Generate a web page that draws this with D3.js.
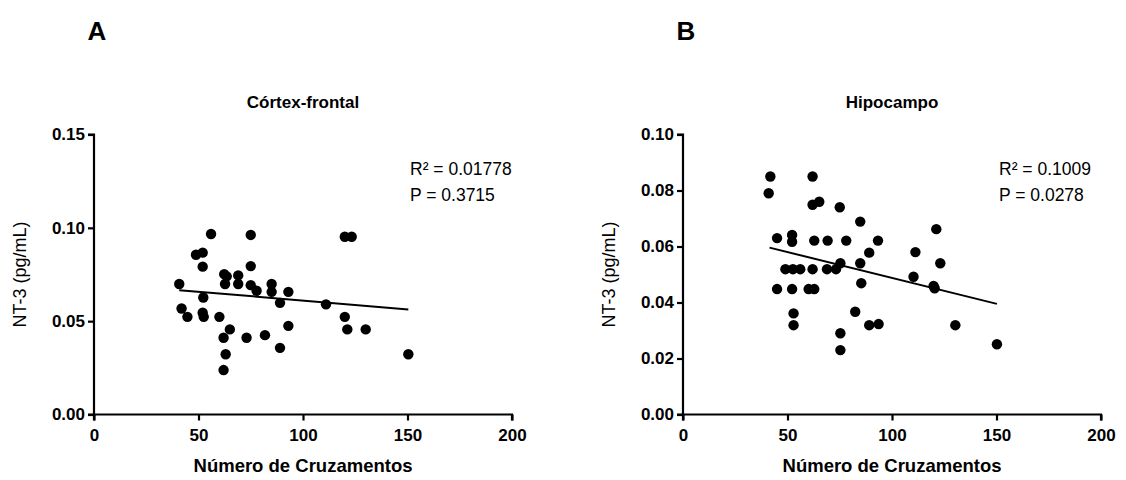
<!DOCTYPE html>
<html>
<head>
<meta charset="utf-8">
<script src="https://cdn.jsdelivr.net/npm/d3@7"></script>
<style>
  body { margin: 0; background: #fff; }
  svg text { font-family: "Liberation Sans", Arial, sans-serif; fill: #000; }
</style>
</head>
<body>
<svg id="chart"></svg>
<script>
var width = 1126;
var height = 480;

// panel A: Córtex-frontal
var cortexX = [40.8, 41.9, 44.7, 48.8, 52, 52, 52.3, 52, 52.5, 56, 60, 62.3, 63.5, 62.7, 62, 63, 62,
  65, 69, 69, 73, 75, 75, 75, 77.8, 81.8, 85, 85, 89, 89, 93, 93, 111, 120, 123.3, 120, 121.2, 130, 150.4];
var cortexY = [0.0699, 0.0568, 0.0523, 0.0856, 0.0867, 0.0792, 0.0627, 0.0545, 0.0523, 0.0967, 0.0523,
  0.0752, 0.0740, 0.0699, 0.0411, 0.0323, 0.0238, 0.0456, 0.0745, 0.0699, 0.0411, 0.0962, 0.0795, 0.0693,
  0.0663, 0.0425, 0.0699, 0.0657, 0.0598, 0.0357, 0.0657, 0.0475, 0.059, 0.0952, 0.0952, 0.0523, 0.0456,
  0.0456, 0.0323];
var cortexFitX = [40.8, 150.4];
var cortexFitY = [0.0666, 0.0563];

// panel B: Hipocampo
var hipoX = [41.8, 41, 62, 62, 65.2, 75, 84.8, 45, 52.2, 52.2, 62.8, 69.2, 78.1, 93.3, 89.1, 111.2,
  49, 52.6, 56.1, 62, 68.9, 73.2, 75.3, 84.8, 110.3, 45, 52.2, 60.1, 62.8, 85.3, 52.9, 82.4, 52.9,
  75.3, 75.3, 89.1, 93.6, 121.2, 123.1, 119.9, 120.4, 130.3, 150.2];
var hipoY = [0.085, 0.079, 0.085, 0.0749, 0.076, 0.074, 0.0689, 0.063, 0.0641, 0.0617, 0.0621, 0.0621,
  0.0621, 0.0621, 0.0578, 0.058, 0.0519, 0.0519, 0.0519, 0.0519, 0.0519, 0.0519, 0.054, 0.054, 0.0492,
  0.0448, 0.0448, 0.0448, 0.0448, 0.0469, 0.0361, 0.0367, 0.0319, 0.029, 0.023, 0.0319, 0.0323, 0.0662,
  0.054, 0.0459, 0.0451, 0.0319, 0.0251];
var hipoFitX = [41.4, 150.2];
var hipoFitY = [0.0596, 0.0395];

var xTicks = [0, 50, 100, 150, 200];
var cortexTicks = [0, 0.05, 0.10, 0.15];
var hipoTicks = [0, 0.02, 0.04, 0.06, 0.08, 0.10];

var panels = [
  {letter: "A", title: "Córtex-frontal", left: 94, xs: cortexX, ys: cortexY, fx: cortexFitX, fy: cortexFitY,
   yMax: 0.15, yTicks: cortexTicks, r2: "R² = 0.01778", p: "P = 0.3715"},
  {letter: "B", title: "Hipocampo", left: 683, xs: hipoX, ys: hipoY, fx: hipoFitX, fy: hipoFitY,
   yMax: 0.10, yTicks: hipoTicks, r2: "R² = 0.1009", p: "P = 0.0278"}
];

var plotTop = 134.5, plotBottom = 414.5, plotW = 418;

var svg = d3.select("#chart")
  .attr("width", width)
  .attr("height", height);

panels.forEach(function(p){
  var x = d3.scaleLinear().domain([0, 200]).range([p.left, p.left + plotW]);
  var y = d3.scaleLinear().domain([0, p.yMax]).range([plotBottom, plotTop]);
  var g = svg.append("g");

  var xAxis = g.append("g")
    .attr("transform", "translate(0," + plotBottom + ")")
    .call(d3.axisBottom(x).tickValues(xTicks).tickSize(6).tickPadding(4).tickFormat(d3.format("d")));
  var yAxis = g.append("g")
    .attr("transform", "translate(" + p.left + ",0)")
    .call(d3.axisLeft(y).tickValues(p.yTicks).tickSize(6).tickPadding(3).tickFormat(d3.format(".2f")));

  [xAxis, yAxis].forEach(function(a){
    a.select(".domain").attr("stroke", "#000").attr("stroke-width", 2.2);
    a.selectAll(".tick line").attr("stroke", "#000").attr("stroke-width", 2.2);
    a.selectAll(".tick text")
      .style("font-family", "'Liberation Sans', Arial, sans-serif")
      .style("font-size", "17px").style("font-weight", "bold").attr("fill", "#000");
  });
  xAxis.select(".domain").attr("d", "M" + p.left + ",6V0H" + (p.left + plotW) + "V6");
  yAxis.select(".domain").attr("d", "M-6," + plotTop + "H0V" + plotBottom + "H-6");
  xAxis.selectAll(".tick text").attr("dy", "0.95em");

  // fit line
  g.append("line")
    .attr("x1", x(p.fx[0])).attr("y1", y(p.fy[0]))
    .attr("x2", x(p.fx[1])).attr("y2", y(p.fy[1]))
    .attr("stroke", "#000").attr("stroke-width", 2);

  g.selectAll("circle")
    .data(p.xs.map(function(d, i){ return [d, p.ys[i]]; }))
    .enter().append("circle")
    .attr("cx", function(d){ return x(d[0]); })
    .attr("cy", function(d){ return y(d[1]); })
    .attr("r", 5.2)
    .attr("fill", "#000");

  g.append("text")
    .attr("x", p.left + 3).attr("y", 40)
    .attr("text-anchor", "middle")
    .style("font-size", "26px").style("font-weight", "bold")
    .text(p.letter);

  g.append("text")
    .attr("x", p.left + plotW / 2).attr("y", 108)
    .attr("text-anchor", "middle")
    .style("font-size", "17px").style("font-weight", "bold")
    .text(p.title);

  g.append("text")
    .attr("transform", "translate(" + (p.left - 68) + "," + ((plotTop + plotBottom) / 2) + ") rotate(-90)")
    .attr("text-anchor", "middle")
    .style("font-size", "18px")
    .text("NT-3 (pg/mL)");

  g.append("text")
    .attr("x", p.left + plotW / 2).attr("y", 472)
    .attr("text-anchor", "middle")
    .style("font-size", "18.5px").style("font-weight", "bold")
    .text("Número de Cruzamentos");

  g.append("text")
    .attr("x", x(150) + 2.5).attr("y", 175)
    .style("font-size", "17.5px")
    .text(p.r2);
  g.append("text")
    .attr("x", x(150) + 2.5).attr("y", 201)
    .style("font-size", "17.5px")
    .text(p.p);
});
</script>
</body>
</html>
